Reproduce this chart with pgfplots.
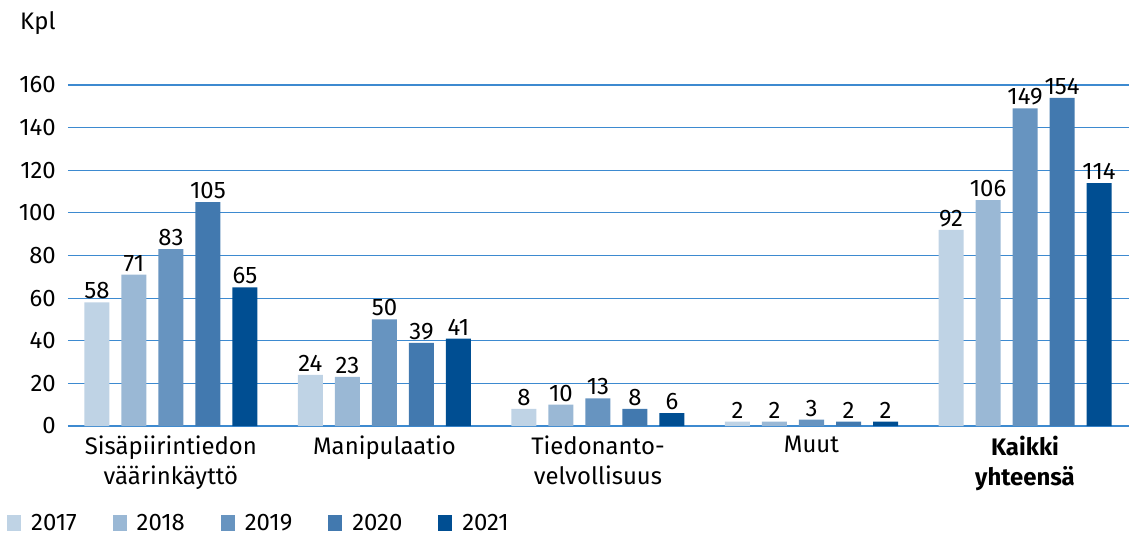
\documentclass[border=0pt]{standalone}
\usepackage{pgfplots}
\pgfplotsset{compat=1.18}
\usepackage{fontspec}
\setmainfont{Fira Sans}
\definecolor{cA}{HTML}{BFD3E5}
\definecolor{cB}{HTML}{9AB8D5}
\definecolor{cC}{HTML}{6794C0}
\definecolor{cD}{HTML}{4279AF}
\definecolor{cE}{HTML}{004E92}
\definecolor{gridc}{HTML}{3D8AD0}
\begin{document}
\begin{tikzpicture}
\useasboundingbox (-68bp,-109bp) rectangle (1061bp,426bp);
\begin{axis}[
  at={(0,0)}, anchor=south west,
  scale only axis,
  width=1061bp, height=341bp,
  xmin=-0.482, xmax=4.487,
  ymin=0, ymax=160,
  ytick={0,20,...,160},
  xtick=data,
  xticklabels={Sisäpiirintiedon\\väärinkäyttö, Manipulaatio, Tiedonanto-\\velvollisuus, Muut, \textbf{Kaikki}\\\textbf{yhteensä}},
  axis line style={draw=none},
  major tick length=0pt,
  ymajorgrids,
  major grid style={color=gridc, line width=1.1pt},
  ybar=12bp, bar width=25bp,
  clip=false,
  /pgf/number format/assume math mode=true,
  ticklabel style={font=\fontsize{24}{30}\selectfont},
  yticklabel style={anchor=east, inner sep=0pt, xshift=-12bp},
  xticklabel style={anchor=north, align=center, inner sep=0pt, yshift=-10bp},
  nodes near coords,
  every node near coord/.append style={font=\fontsize{24}{26}\selectfont, inner sep=0pt, anchor=south, yshift=3bp, /pgf/number format/assume math mode=true},
  legend columns=5,
  legend style={draw=none, fill=none, at={(axis description cs:-0.0575,-0.2845)}, anchor=west, inner sep=0pt, font=\fontsize{24}{26}\selectfont, /tikz/every odd column/.append style={column sep=8bp}, /tikz/every even column/.append style={column sep=34bp}},
  legend image code/.code={\fill[#1,draw=none] (0bp,-8bp) rectangle (14bp,8bp);},
]
\addplot[fill=cA, draw=none] coordinates {(0,58) (1,24) (2,8) (3,2) (4,92)};
\addplot[fill=cB, draw=none] coordinates {(0,71) (1,23) (2,10) (3,2) (4,106)};
\addplot[fill=cC, draw=none] coordinates {(0,83) (1,50) (2,13) (3,3) (4,149)};
\addplot[fill=cD, draw=none] coordinates {(0,105) (1,39) (2,8) (3,2) (4,154)};
\addplot[fill=cE, draw=none] coordinates {(0,65) (1,41) (2,6) (3,2) (4,114)};
\legend{2017,2018,2019,2020,2021}
\node[anchor=west, inner sep=0pt, font=\fontsize{24}{26}\selectfont] at (axis description cs:-0.0452,1.0) [yshift=62bp] {Kpl};
\end{axis}
\end{tikzpicture}
\end{document}
